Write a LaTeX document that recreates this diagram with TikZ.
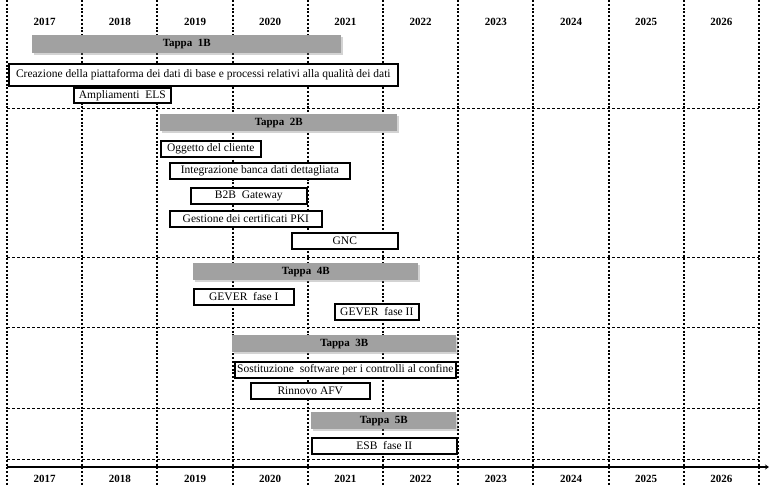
\documentclass[tikz,border=0pt]{standalone}
\usepackage{fontspec}
\setmainfont{Liberation Serif}
\usetikzlibrary{shadows,arrows.meta}

\tikzset{
  anno/.style={font=\fontsize{11}{13}\selectfont\bfseries},
  griglia/.style={line width=2pt, dash pattern=on 2pt off 1.8pt},
  separa/.style={line width=0.7pt, dash pattern=on 3pt off 2pt},
  tappa/.style={fill=black!37, anchor=north west, inner sep=0pt,
    font=\fontsize{11}{13}\selectfont\bfseries,
    drop shadow={shadow xshift=1.5pt, shadow yshift=-2pt, opacity=0.35}},
  attivita/.style={draw, line width=1.6pt, fill=white, anchor=north west,
    inner sep=0pt, minimum height=16pt, font=\fontsize{11.5}{13}\selectfont,
    drop shadow={shadow xshift=1.5pt, shadow yshift=-1.5pt, opacity=0.5}}
}

\begin{document}
\begin{tikzpicture}[x=1pt, y=-1pt]
        \useasboundingbox (0,0) rectangle (770,486);
        % Grid of the years (dotted)
        \foreach \i in {0,...,10}
            \draw [griglia] (7+75.2*\i,0) -- (7+75.2*\i,486);
        \foreach \anno [count=\i from 0] in {2017,...,2026} {
            \node [anno] (top\anno) at (44.6+75.2*\i,22) {\anno};
            \node [anno] (bot\anno) at (44.6+75.2*\i,479) {\anno};
        }
        % Separators between the stages
        \draw [separa] (7,108) -- (759,108);
        \draw [separa] (7,257) -- (759,257);
        \draw [separa] (7,327) -- (759,327);
        \draw [separa] (7,408) -- (759,408);
        \draw [separa] (7,459) -- (759,459);
        % Tappa 1B
        \node [tappa, minimum width=309pt, minimum height=18pt] (t1b) at (32,35) {Tappa\ \ 1B};
        \node [attivita, minimum width=389pt, minimum height=22pt] (creazione) at (8,63) {Creazione\ della\ piattaforma dei dati di base e processi relativi\ alla qualità\ dei dati};
        \node [attivita, minimum width=97pt, minimum height=15pt] (els) at (73,87) {Ampliamenti\ \ ELS};
        % Tappa 2B
        \node [tappa, minimum width=237pt, minimum height=17pt] (t2b) at (160,114) {Tappa\ \ 2B};
        \node [attivita, minimum width=100pt] (oggetto) at (160,140) {Oggetto del cliente};
        \node [attivita, minimum width=180pt] (integrazione) at (169,162) {Integrazione banca dati dettagliata};
        \node [attivita, minimum width=116pt] (b2b) at (190,187) {B2B\ \ Gateway};
        \node [attivita, minimum width=152pt] (pki) at (169,210) {Gestione dei certificati PKI};
        \node [attivita, minimum width=106pt] (gnc) at (291,232) {GNC};
        % Tappa 4B
        \node [tappa, minimum width=225pt, minimum height=17pt] (t4b) at (193,263) {Tappa\ \ 4B};
        \node [attivita, minimum width=100pt] (gever1) at (193,288) {GEVER\ \ fase I};
        \node [attivita, minimum width=84pt] (gever2) at (334,303) {GEVER\ \ fase II};
        % Tappa 3B
        \node [tappa, minimum width=224pt, minimum height=17pt] (t3b) at (232,335) {Tappa\ \ 3B};
        \node [attivita, minimum width=221pt] (software) at (234,361) {Sostituzione\ \ software per i controlli al confine};
        \node [attivita, minimum width=119pt] (afv) at (250,382) {Rinnovo AFV};
        % Tappa 5B
        \node [tappa, minimum width=145pt, minimum height=17pt] (t5b) at (311,412) {Tappa\ \ 5B};
        \node [attivita, minimum width=145pt] (esb) at (311,437) {ESB\ \ fase II};
        % Time axis
        \coordinate (inizio) at (7,467);
        \coordinate (fine) at (769,467);
        \draw [line width=2.6pt, -{Stealth[length=4pt, width=5pt]}] (inizio) -- (fine);
\end{tikzpicture}
\end{document}
